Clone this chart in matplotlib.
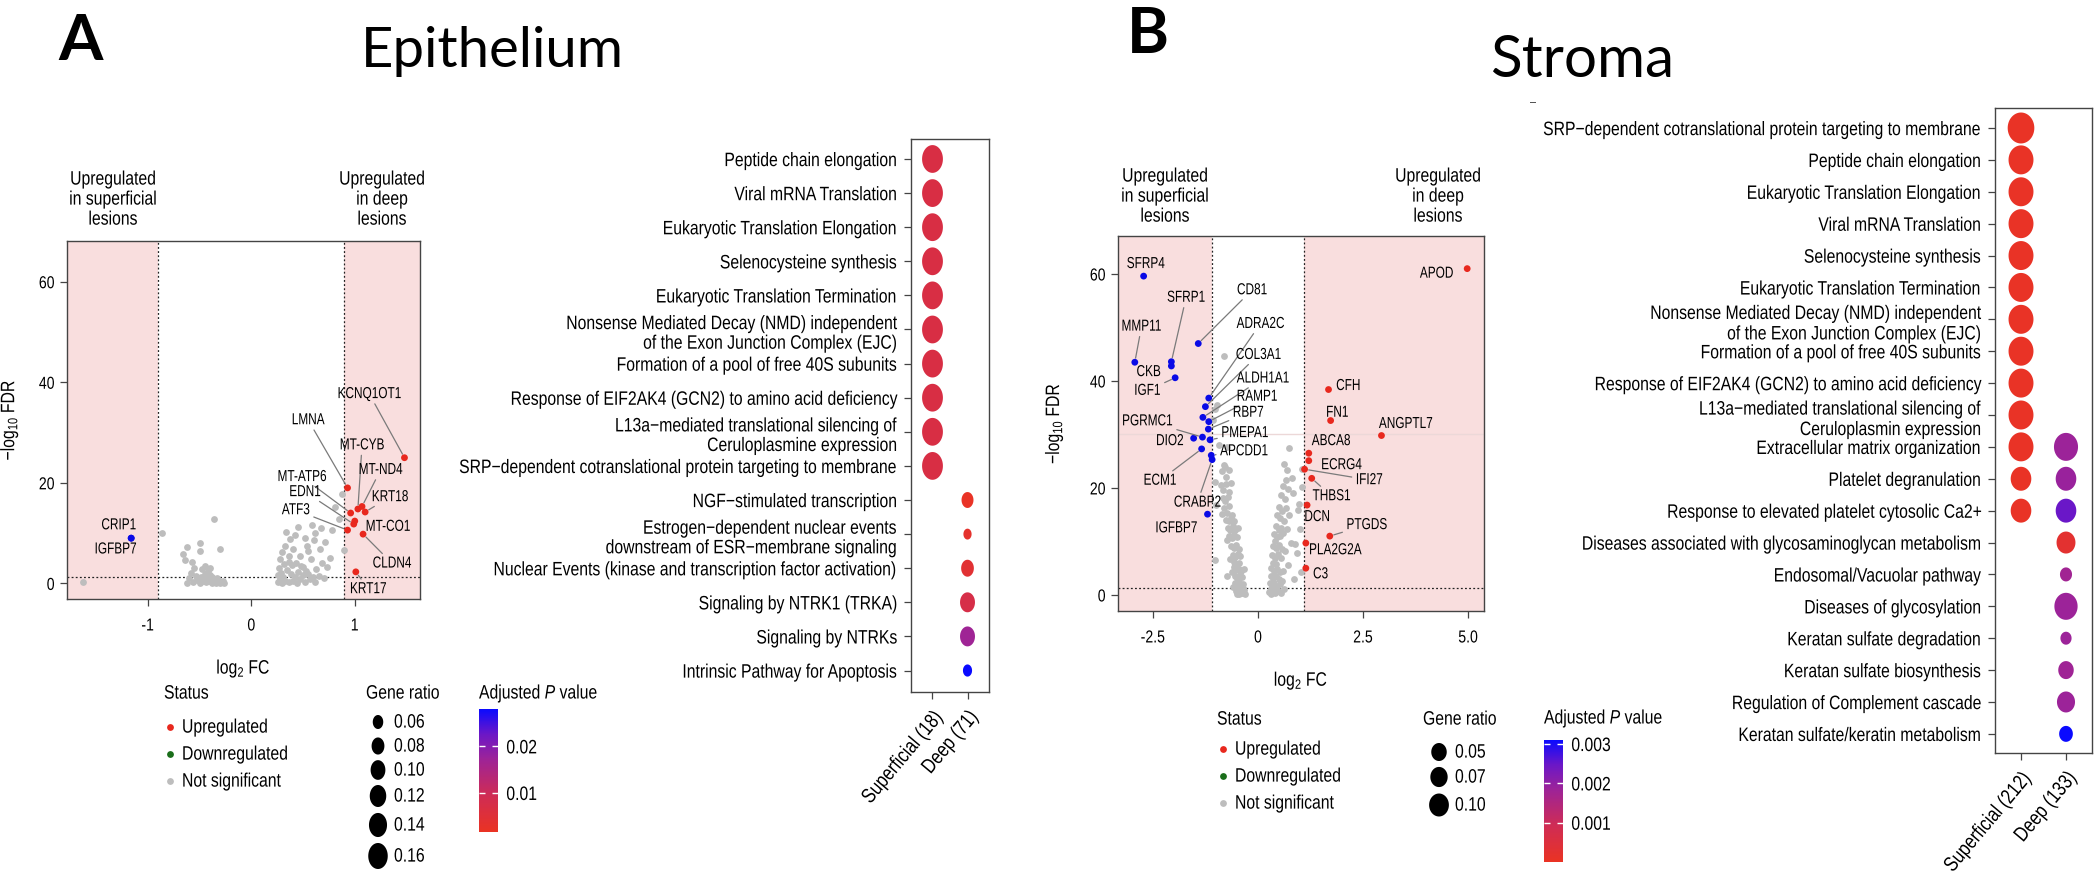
import numpy as np
import matplotlib
matplotlib.use("Agg")
import matplotlib.pyplot as plt
from matplotlib import font_manager
from matplotlib.cm import ScalarMappable
from matplotlib.colors import LinearSegmentedColormap, Normalize
from matplotlib.path import Path
from matplotlib.patheffects import AbstractPathEffect
from matplotlib.text import Text
from matplotlib.transforms import Affine2D

W, H = 2100, 882
_names = {f.name for f in font_manager.fontManager.ttflist}
BODY = "Liberation Sans"
TITLE_FONT = "Lato" if "Lato" in _names else "DejaVu Sans"
plt.rcParams["font.family"] = [BODY, "DejaVu Sans"]
plt.rcParams["mathtext.fontset"] = "custom"
plt.rcParams["mathtext.rm"] = BODY
plt.rcParams["mathtext.it"] = BODY + ":italic"
plt.rcParams["axes.unicode_minus"] = False

# ---------------- data: epithelium volcano ----------------
epi_ns = [(-1.63, 0.2), (-0.86, 10.1), (-0.36, 12.8), (-0.66, 5.8), (-0.62, 7.2), (-0.64, 4.6),
          (-0.50, 8.0), (-0.50, 6.4), (-0.30, 6.8), (-0.57, 4.2), (-0.55, 3.0), (-0.48, 2.8),
          (-0.45, 1.9), (-0.42, 2.4), (-0.40, 1.6), (-0.38, 1.2), (-0.35, 0.8), (-0.33, 1.1),
          (-0.31, 0.5), (-0.28, 0.3), (-0.26, 0.1), (-0.56, 0.3), (-0.52, 0.6), (-0.47, 0.4),
          (-0.44, 0.2), (-0.41, 0.5), (-0.38, 0.1), (-0.36, 0.3), (-0.34, 0.0), (-0.30, 0.1),
          (-0.60, 1.0), (-0.58, 2.0), (-0.53, 1.4), (-0.49, 1.2), (-0.46, 0.9), (-0.43, 1.0),
          (-0.39, 0.8), (-0.32, 0.6), (-0.27, 0.4), (-0.50, 0.1), (-0.45, 3.5), (-0.40, 3.0),
          (-0.62, 0.1),
          (0.34, 10.2), (0.45, 11.2), (0.59, 11.6), (0.67, 11.0), (0.81, 15.2), (0.78, 10.6),
          (0.52, 9.0), (0.61, 8.6), (0.90, 6.7), (0.76, 5.0), (0.68, 4.0), (0.30, 6.2),
          (0.28, 4.8), (0.33, 7.5), (0.36, 5.5), (0.40, 6.8), (0.43, 4.0), (0.47, 5.5),
          (0.50, 3.2), (0.55, 6.4), (0.58, 4.8), (0.63, 2.9), (0.66, 6.9), (0.71, 8.2),
          (0.73, 3.2), (0.85, 12.8), (0.88, 17.8), (0.27, 3.0), (0.29, 2.0), (0.31, 1.2),
          (0.33, 0.5), (0.35, 2.6), (0.38, 1.8), (0.40, 0.4), (0.42, 1.3), (0.45, 2.2),
          (0.47, 0.8), (0.50, 1.6), (0.52, 0.3), (0.55, 1.9), (0.57, 0.9), (0.60, 1.3),
          (0.62, 0.2), (0.26, 0.3), (0.28, 0.8), (0.36, 0.2), (0.44, 0.1), (0.48, 3.5),
          (0.53, 2.4), (0.39, 3.6), (0.32, 3.8), (0.36, 4.2), (0.26, 1.6), (0.30, 0.1),
          (0.70, 1.0), (0.65, 1.5), (0.54, 7.5), (0.62, 10.0), (0.42, 9.6), (0.37, 8.8)]
epi_genes = ["KCNQ1OT1", "LMNA", "MT-CYB", "MT-ND4", "KRT18", "MT-ATP6", "EDN1", "ATF3",
             "MT-CO1", "CLDN4", "KRT17", "CRIP1", "IGFBP7"]
epi_gene_fc = [1.48, 0.93, 1.03, 1.07, 1.10, 0.96, 0.99, 0.93, 1.00, 1.08, 1.01, -1.16, -1.16]
epi_gene_fdr = [25.0, 19.0, 14.8, 15.3, 14.2, 14.0, 11.8, 10.6, 12.4, 9.8, 2.3, 9.0, 9.0]
epi_gene_side = ["deep"] * 11 + ["superficial"] * 2

# ---------------- data: stroma volcano ----------------
str_ns = [(-0.81, 44.7), (-0.98, 35.5), (-1.01, 34.8), (-1.06, 32.7), (-0.93, 28.0), (-0.73, 27.6),
          (-0.81, 24.2), (-0.75, 22.0), (-0.86, 23.1), (-1.02, 21.2), (-0.79, 24.0), (-0.70, 23.4),
          (-1.00, 16.8), (-1.02, 6.6), (-0.73, 3.5), (-0.60, 1.4),
          (-0.88, 20.5), (-0.82, 19.6), (-0.76, 20.8), (-0.70, 19.2), (-0.65, 21.0), (-0.84, 18.1),
          (-0.78, 17.6), (-0.72, 18.4), (-0.80, 16.2), (-0.74, 15.4), (-0.68, 16.6), (-0.62, 15.0),
          (-0.77, 14.1), (-0.70, 13.8), (-0.64, 14.4), (-0.58, 13.9), (-0.85, 15.1), (-0.72, 12.6),
          (-0.66, 12.1), (-0.60, 12.8), (-0.54, 12.2), (-0.68, 11.0), (-0.62, 10.6), (-0.56, 11.3),
          (-0.50, 10.8), (-0.74, 10.2), (-0.47, 12.5), (-0.64, 9.2), (-0.58, 8.8), (-0.52, 9.4),
          (-0.46, 8.6), (-0.60, 7.5), (-0.54, 7.1), (-0.48, 7.7), (-0.42, 7.2), (-0.66, 6.8),
          (-0.56, 6.2), (-0.44, 6.0), (-0.50, 5.8), (-0.58, 5.2), (-0.52, 4.6), (-0.46, 4.9),
          (-0.40, 4.4), (-0.55, 3.6), (-0.49, 3.2), (-0.43, 3.8), (-0.37, 3.3), (-0.62, 4.3),
          (-0.34, 4.8), (-0.55, 2.2), (-0.50, 1.6), (-0.45, 2.4), (-0.40, 1.8), (-0.35, 2.1),
          (-0.52, 0.8), (-0.47, 0.4), (-0.42, 1.0), (-0.38, 0.3), (-0.33, 0.9), (-0.31, 0.2),
          (-0.44, 0.1), (-0.36, 1.3), (-0.49, 0.2),
          (0.74, 27.5), (1.05, 23.5), (0.83, 19.0), (0.92, 7.8), (1.00, 12.4), (0.95, 15.8),
          (0.88, 9.5), (1.02, 4.2), (0.86, 3.0), (0.97, 17.0), (1.05, 20.2), (0.80, 21.8),
          (0.70, 23.3), (0.62, 24.5), (0.66, 21.4), (0.60, 20.3), (0.72, 19.8), (0.55, 18.6),
          (0.64, 18.0), (0.50, 16.5), (0.58, 15.7), (0.66, 16.2), (0.45, 15.0), (0.53, 14.4),
          (0.74, 15.0), (0.61, 13.8), (0.42, 12.8), (0.49, 12.2), (0.56, 12.6), (0.38, 11.4),
          (0.45, 10.8), (0.52, 11.0), (0.60, 11.6), (0.70, 12.3), (0.41, 10.0), (0.36, 9.2),
          (0.43, 8.8), (0.50, 9.3), (0.57, 8.6), (0.34, 7.4), (0.40, 7.0), (0.47, 7.6),
          (0.54, 7.0), (0.65, 8.2), (0.37, 6.0), (0.44, 5.8), (0.78, 9.8), (0.32, 5.0),
          (0.38, 4.5), (0.45, 4.8), (0.52, 4.2), (0.30, 3.5), (0.36, 3.2), (0.42, 3.6),
          (0.49, 3.0), (0.60, 4.4), (0.72, 5.6), (0.28, 2.2), (0.33, 1.7), (0.39, 2.3),
          (0.45, 1.5), (0.52, 2.0), (0.27, 0.6), (0.31, 0.2), (0.36, 0.9), (0.41, 0.3),
          (0.47, 0.8), (0.55, 0.4), (0.62, 1.2), (0.30, 1.2), (0.58, 2.6)]
str_genes = ["SFRP4", "SFRP1", "CKB", "IGF1", "MMP11", "CD81", "ADRA2C", "COL3A1", "ALDH1A1",
             "RAMP1", "RBP7", "PMEPA1", "APCDD1", "PGRMC1", "DIO2", "ECM1", "CRABP2", "IGFBP7",
             "APOD", "CFH", "FN1", "ANGPTL7", "ABCA8", "ECRG4", "IFI27", "THBS1", "DCN",
             "PTGDS", "PLA2G2A", "C3"]
str_gene_fc = [-2.72, -2.06, -2.06, -1.97, -2.93, -1.42, -1.17, -1.25, -1.31, -1.17, -1.18, -1.14,
               -1.11, -1.32, -1.53, -1.34, -1.09, -1.20,
               4.98, 1.68, 1.73, 2.94, 1.21, 1.21, 1.11, 1.28, 1.17, 1.71, 1.14, 1.14]
str_gene_fdr = [59.6, 43.6, 42.8, 40.6, 43.5, 47.0, 36.8, 35.2, 33.2, 32.4, 31.0, 29.0,
                26.1, 29.5, 29.3, 27.3, 25.3, 15.1,
                61.0, 38.4, 32.6, 29.8, 26.5, 25.1, 23.5, 21.8, 16.8, 11.0, 9.7, 5.0]
str_gene_side = ["superficial"] * 18 + ["deep"] * 12

# ---------------- data: enrichment dot plots ----------------
epi_columns = ["Superficial (18)", "Deep (71)"]
epi_terms = ["Peptide chain elongation", "Viral mRNA Translation",
             "Eukaryotic Translation Elongation", "Selenocysteine synthesis",
             "Eukaryotic Translation Termination",
             "Nonsense Mediated Decay (NMD) independent\nof the Exon Junction Complex (EJC)",
             "Formation of a pool of free 40S subunits",
             "Response of EIF2AK4 (GCN2) to amino acid deficiency",
             "L13a\u2212mediated translational silencing of\nCeruloplasmine expression",
             "SRP\u2212dependent cotranslational protein targeting to membrane",
             "NGF\u2212stimulated transcription",
             "Estrogen\u2212dependent nuclear events\ndownstream of ESR\u2212membrane signaling",
             "Nuclear Events (kinase and transcription factor activation)",
             "Signaling by NTRK1 (TRKA)", "Signaling by NTRKs", "Intrinsic Pathway for Apoptosis"]
epi_group = ["Superficial (18)"] * 10 + ["Deep (71)"] * 6
epi_ratio = [0.18] * 10 + [0.072, 0.044, 0.079, 0.102, 0.102, 0.05]
epi_padj = [0.0069] * 10 + [0.0021, 0.0032, 0.0042, 0.0074, 0.0169, 0.028]

str_columns = ["Superficial (212)", "Deep (133)"]
str_terms = ["SRP\u2212dependent cotranslational protein targeting to membrane",
             "Peptide chain elongation", "Eukaryotic Translation Elongation",
             "Viral mRNA Translation", "Selenocysteine synthesis",
             "Eukaryotic Translation Termination",
             "Nonsense Mediated Decay (NMD) independent\nof the Exon Junction Complex (EJC)",
             "Formation of a pool of free 40S subunits",
             "Response of EIF2AK4 (GCN2) to amino acid deficiency",
             "L13a\u2212mediated translational silencing of\nCeruloplasmin expression",
             "Extracellular matrix organization", "Platelet degranulation",
             "Response to elevated platelet cytosolic Ca2+",
             "Extracellular matrix organization", "Platelet degranulation",
             "Response to elevated platelet cytosolic Ca2+",
             "Diseases associated with glycosaminoglycan metabolism",
             "Endosomal/Vacuolar pathway", "Diseases of glycosylation",
             "Keratan sulfate degradation", "Keratan sulfate biosynthesis",
             "Regulation of Complement cascade", "Keratan sulfate/keratin metabolism"]
str_group = ["Superficial (212)"] * 13 + ["Deep (133)"] * 10
str_ratio = [0.205] + [0.176] * 10 + [0.111, 0.111] + \
            [0.162, 0.111, 0.111, 0.089, 0.019, 0.149, 0.012, 0.05, 0.0785, 0.033]
str_padj = [0.00006] * 13 + [0.00186, 0.0019, 0.00248, 0.00025, 0.00177, 0.00186,
                             0.00186, 0.0018, 0.00186, 0.0031]

epi_ratio_breaks = [0.06, 0.08, 0.10, 0.12, 0.14, 0.16]
str_ratio_breaks = [0.05, 0.07, 0.10]
epi_p_range = (0.0016, 0.028)
str_p_range = (0.0, 0.0031)
epi_p_ticks = [0.01, 0.02]
str_p_ticks = [0.001, 0.002, 0.003]
status_labels = ["Upregulated", "Downregulated", "Not significant"]

# ---------------- styles ----------------
PINK = "#f9dede"
RED = "#e8281e"
BLUE = "#0a0ae6"
GREY = "#bdbdbd"
GREEN = "#1a6e1a"
FRAME = "#444444"
LEADER = "#7a7a7a"
CONDENSE = 0.81       # width / height of the reference's condensed face
CONDENSE_GENE = 0.74
cmap = LinearSegmentedColormap.from_list(
    "padj", [(0, "#ea3323"), (0.3, "#cf2c55"), (0.6, "#9c2399"), (0.8, "#6a17c8"), (1, "#0a0aff")])

# label positions (layout) and which labels get a leader segment
epi_label_xy = {"KCNQ1OT1": (1.14, 37.7), "LMNA": (0.55, 32.5), "MT-CYB": (1.07, 27.5),
                "MT-ND4": (1.25, 22.6), "KRT18": (1.34, 17.2), "MT-ATP6": (0.49, 21.2),
                "EDN1": (0.52, 18.2), "ATF3": (0.43, 14.6), "MT-CO1": (1.32, 11.3),
                "CLDN4": (1.36, 4.0), "KRT17": (1.13, -1.1), "CRIP1": (-1.28, 11.6),
                "IGFBP7": (-1.31, 6.8)}
epi_leader = {"KCNQ1OT1", "LMNA", "MT-CYB", "MT-ND4", "KRT18", "MT-ATP6", "EDN1", "ATF3",
              "CLDN4", "KRT17"}
str_label_xy = {"SFRP4": (-2.67, 61.9), "SFRP1": (-1.71, 55.6), "CKB": (-2.6, 41.7),
                "IGF1": (-2.63, 38.2), "MMP11": (-2.77, 50.2), "CD81": (-0.14, 57.0),
                "ADRA2C": (0.06, 50.7), "COL3A1": (0.01, 44.9), "ALDH1A1": (0.12, 40.5),
                "RAMP1": (-0.02, 37.1), "RBP7": (-0.23, 34.1), "PMEPA1": (-0.31, 30.3),
                "APCDD1": (-0.33, 26.9), "PGRMC1": (-2.63, 32.5), "DIO2": (-2.1, 28.8),
                "ECM1": (-2.33, 21.4), "CRABP2": (-1.44, 17.3), "IGFBP7": (-1.94, 12.5),
                "APOD": (4.25, 60.1), "CFH": (2.15, 39.1), "FN1": (1.89, 34.1),
                "ANGPTL7": (3.52, 32.0), "ABCA8": (1.74, 28.8), "ECRG4": (1.99, 24.3),
                "IFI27": (2.65, 21.5), "THBS1": (1.75, 18.5), "DCN": (1.41, 14.6),
                "PTGDS": (2.59, 13.1), "PLA2G2A": (1.84, 8.4), "C3": (1.49, 3.9)}
str_leader = {"SFRP1", "IGF1", "MMP11", "CD81", "ADRA2C", "COL3A1", "ALDH1A1", "RAMP1", "RBP7",
              "PMEPA1", "APCDD1", "PGRMC1", "ECM1", "CRABP2", "IFI27", "THBS1", "PTGDS"}


class Tall(AbstractPathEffect):
    """Stretch glyphs vertically around a fixed line height (text2path units, em = 100)."""

    def __init__(self, sy, y0):
        super().__init__()
        self.sy = sy
        self.y0 = y0

    def draw_path(self, renderer, gc, tpath, affine, rgbFace=None):
        t = Affine2D().translate(0, -self.y0).scale(1, self.sy).translate(0, self.y0)
        renderer.draw_path(gc, tpath, t + affine, rgbFace)


_y0 = {"center": 30, "center_baseline": 30, "baseline": 0, "top": 73, "bottom": -21}


def condense(t, k):
    # shrink the face to the reference's width, then draw it back to full height
    t.set_fontsize(t.get_fontsize() * k)
    t.set_linespacing(getattr(t, "_linespacing", 1.2) / k)
    t.set_path_effects([Tall(1 / k, _y0.get(t.get_verticalalignment(), 30))])


fig = plt.figure(figsize=(W / 100, H / 100), dpi=100)
ov = fig.add_axes([0, 0, 1, 1])
ov.set_xlim(0, W)
ov.set_ylim(H, 0)
ov.axis("off")
gene_texts = []


def px_axes(l, t, r, b):
    return fig.add_axes([l / W, 1 - b / H, (r - l) / W, (b - t) / H])


def ellipse(aspect):
    t = np.linspace(0, 2 * np.pi, 64)
    return Path(np.column_stack([aspect * np.cos(t), np.sin(t)]), closed=True)


def dot_size(ratio, scale):
    r0, h0sq, k = scale
    h = np.sqrt(np.maximum(h0sq + (np.asarray(ratio) - r0) * k, 20))
    return (h * 0.72) ** 2


def frame(ax):
    for sp in ax.spines.values():
        sp.set_color(FRAME)
        sp.set_linewidth(1.0)
    ax.tick_params(length=5, width=0.9, color=FRAME, labelcolor="black")


def volcano(box, xlim, ylim, xticks, xticklabels, thr, ns, genes, fc, fdr, side, label_xy,
            leader, hline=None):
    ax = px_axes(*box)
    ax.set_xlim(xlim)
    ax.set_ylim(ylim)
    ax.axvspan(xlim[0], -thr, color=PINK, lw=0, zorder=0)
    ax.axvspan(thr, xlim[1], color=PINK, lw=0, zorder=0)
    if hline is not None:
        ax.axhline(hline, color="#ecd8d8", lw=1.0, zorder=0.5)
    dkw = dict(color="#222222", lw=0.9, ls=(0, (1.5, 1.8)), zorder=1)
    ax.axvline(-thr, **dkw)
    ax.axvline(thr, **dkw)
    ax.axhline(-np.log10(0.05), **dkw)
    ns = np.array(ns)
    ax.scatter(ns[:, 0], ns[:, 1], s=24, c=GREY, lw=0, zorder=2)
    cols = [RED if s == "deep" else BLUE for s in side]
    ax.scatter(fc, fdr, s=24, c=cols, lw=0, zorder=3)
    for g, x, y in zip(genes, fc, fdr):
        arrow = dict(arrowstyle="-", color=LEADER, lw=0.9, shrinkA=1, shrinkB=3) if g in leader else None
        gene_texts.append(ax.annotate(g, xy=(x, y), xytext=label_xy[g], ha="center", va="center",
                                      fontsize=11.5, arrowprops=arrow, zorder=4,
                                      annotation_clip=False))
    ax.set_xticks(xticks)
    ax.set_xticklabels(xticklabels)
    ax.set_yticks([0, 20, 40, 60])
    frame(ax)
    ax.tick_params(labelsize=12.5)
    ax.tick_params(axis="x", pad=8)
    ax.tick_params(axis="y", pad=4)
    ax.set_xlabel("log$_2$ FC", fontsize=14)
    ax.set_ylabel("\u2212log$_{10}$ FDR", fontsize=14)
    return ax


def dotplot(box, lims, terms, group, ratio, padj, columns, scale, aspect, norm, linespacing):
    ax = px_axes(*box)
    rows = list(dict.fromkeys(terms))
    xs = [columns.index(g) for g in group]
    ys = [rows.index(t) for t in terms]
    ax.scatter(xs, ys, s=dot_size(ratio, scale), c=padj, cmap=cmap, norm=norm,
               marker=ellipse(aspect), lw=0, zorder=3)
    ax.set_xlim(lims[0], lims[1])
    ax.set_ylim(lims[3], lims[2])
    ax.set_yticks(range(len(rows)))
    ax.set_yticklabels(rows, fontsize=14, linespacing=linespacing)
    ax.set_xticks([0, 1])
    ax.set_xticklabels(columns, fontsize=15, rotation=50, ha="right", va="top",
                       rotation_mode="anchor")
    frame(ax)
    ax.tick_params(axis="y", pad=5)
    ax.tick_params(axis="x", pad=6)
    return ax


# ---------------- volcano plots ----------------
epi_scale = (0.06, 196, 4800)
str_scale = (0.05, 324, 4100)

va = volcano((67, 241, 420, 599), (-1.78, 1.63), (-3.1, 68.1), [-1, 0, 1], ["-1", "0", "1"], 0.9,
             epi_ns, epi_genes, epi_gene_fc, epi_gene_fdr, epi_gene_side, epi_label_xy, epi_leader)
va.yaxis.set_label_coords(-0.133, 0.5)
va.xaxis.set_label_coords(0.5, -0.162)

vb = volcano((1118, 236, 1484, 611), (-3.33, 5.38), (-3.0, 67.1), [-2.5, 0, 2.5, 5.0],
             ["-2.5", "0", "2.5", "5.0"], 1.1, str_ns, str_genes, str_gene_fc, str_gene_fdr,
             str_gene_side, str_label_xy, str_leader, hline=30)
vb.yaxis.set_label_coords(-0.145, 0.5)
vb.xaxis.set_label_coords(0.5, -0.155)

SUP = "Upregulated\nin superficial\nlesions"
DEEP = "Upregulated\nin deep\nlesions"
for cx, cy, txt in [(113, 199, SUP), (382, 199, DEEP), (1165, 196, SUP), (1438, 196, DEEP)]:
    ov.text(cx, cy, txt, ha="center", va="center", fontsize=14, linespacing=1.15)

# ---------------- dot plots ----------------
epi_norm = Normalize(*epi_p_range)
str_norm = Normalize(*str_p_range)
dotplot((911, 139, 989, 692), (-0.614, 1.614, -0.586, 15.63), epi_terms, epi_group, epi_ratio,
        epi_padj, epi_columns, epi_scale, 0.75, epi_norm, 1.12)
dotplot((1995, 108, 2092, 753), (-0.578, 1.578, -0.627, 19.6), str_terms, str_group, str_ratio,
        str_padj, str_columns, str_scale, 0.86, str_norm, 1.18)


# ---------------- legends ----------------
def status_legend(x, y_title, rows):
    ov.text(x - 6, y_title, "Status", fontsize=14, va="center")
    for yy, lab, col in zip(rows, status_labels, [RED, GREEN, GREY]):
        ov.scatter([x], [yy], s=24, c=col, lw=0)
        ov.text(x + 12, yy, lab, fontsize=14, va="center")


def ratio_legend(x, y_title, title_dx, rows, breaks, scale, aspect):
    ov.text(x - title_dx, y_title, "Gene ratio", fontsize=14, va="center")
    ov.scatter([x] * len(breaks), rows, s=dot_size(breaks, scale), c="black",
               marker=ellipse(aspect), lw=0)
    for yy, b in zip(rows, breaks):
        ov.text(x + 16, yy, f"{b:.2f}", fontsize=14, va="center")


def p_colorbar(l, t, r, b, y_title, norm, ticks, fmt):
    ov.text(l, y_title, "Adjusted $P$ value", fontsize=14, va="center")
    cax = px_axes(l, t, r, b)
    cb = fig.colorbar(ScalarMappable(norm=norm, cmap=cmap), cax=cax)
    cb.outline.set_visible(False)
    cb.set_ticks(ticks)
    cb.set_ticklabels([fmt.format(v) for v in ticks])
    cax.tick_params(direction="in", color="white", length=4, width=1, left=True, right=True,
                    labelsize=14, labelcolor="black", pad=6)


status_legend(170, 693, [727, 754, 781])
ratio_legend(378, 693, 12, [722, 746, 770, 796, 825, 856], epi_ratio_breaks, epi_scale, 0.75)
p_colorbar(479, 709, 498, 832, 693, epi_norm, epi_p_ticks, "{:.2f}")

status_legend(1223, 719, [749, 776, 803])
ratio_legend(1439, 719, 16, [752, 777, 805], str_ratio_breaks, str_scale, 0.86)
p_colorbar(1544, 740, 1563, 862, 718, str_norm, str_p_ticks, "{:.3f}")

# ---------------- titles ----------------
titles = [
    ov.text(58, 60, "A", fontsize=46, fontweight="bold", family=TITLE_FONT, va="baseline"),
    ov.text(361, 67, "Epithelium", fontsize=40.5, family=TITLE_FONT, va="baseline"),
    ov.text(1127, 53, "B", fontsize=46, fontweight="bold", family=TITLE_FONT, va="baseline"),
    ov.text(1490, 77, "Stroma", fontsize=42, family=TITLE_FONT, va="baseline"),
]
ov.text(1533, 102, "--", fontsize=8, color="#555555", ha="center", va="center")

# the reference's body face is condensed: narrow every body text, keep its height
fig.canvas.draw()
for t in fig.findobj(Text):
    if t in titles or not t.get_text():
        continue
    condense(t, CONDENSE_GENE if t in gene_texts else CONDENSE)

fig.savefig("out.png", dpi=100)
